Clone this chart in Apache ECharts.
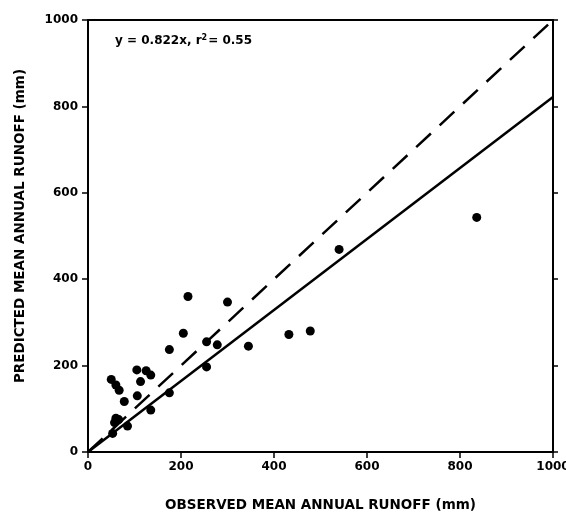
<!DOCTYPE html>
<html>
<head>
<meta charset="utf-8">
<script src="https://cdn.jsdelivr.net/npm/echarts@6/dist/echarts.min.js"></script>
<style>
  html, body { margin: 0; padding: 0; background: #fff; }
  #chart { width: 566px; height: 517px; }
</style>
</head>
<body>
<div id="chart"></div>
<script>
// observed vs predicted mean annual runoff (mm)
const observed  = [50, 60, 67, 78, 106, 113, 105, 125, 135, 175, 135, 60, 66, 85, 53, 57, 175, 205, 215, 255, 278, 255, 300, 345, 432, 478, 540, 836];
const predicted = [168, 155, 143, 117, 130, 163, 190, 188, 178, 137, 97, 78, 75, 60, 43, 68, 237, 275, 360, 255, 248, 197, 347, 245, 272, 280, 469, 543];

// regression y = 0.822x and the 1:1 line
const lineX = [0, 1000];
const fitY = [0, 822];
const oneToOneY = [0, 1000];

const font = 'DejaVu Sans, Arial, sans-serif';

const points = observed.map((v, i) => [v, predicted[i]]);

const chart = echarts.init(document.getElementById('chart'));

const options = {
  animation: false,
  backgroundColor: '#fff',
  grid: { left: 88, right: 13, top: 20, bottom: 65, outerBoundsMode: 'none', containLabel: false },
  graphic: [
    {
      type: 'text',
      left: 115,
      top: 34,
      style: {
        text: '{a|y = 0.822x, r}{s|2}{a|= 0.55}',
        rich: {
          a: { fontFamily: font, fontWeight: 'bold', fontSize: 12, fill: '#000' },
          s: { fontFamily: font, fontWeight: 'bold', fontSize: 8, fill: '#000', verticalAlign: 'top', padding: [0, 1, 6, 0] }
        }
      }
    }
  ],
  xAxis: [
    {
      type: 'value',
      min: 0, max: 1000, interval: 200,
      name: 'OBSERVED MEAN ANNUAL RUNOFF (mm)',
      nameLocation: 'middle',
      nameGap: 46,
      nameTextStyle: { fontFamily: font, fontWeight: 'bold', fontSize: 13.5, color: '#000' },
      axisLine: { onZero: false, lineStyle: { color: '#000', width: 2 } },
      axisTick: { show: true, length: 6, lineStyle: { color: '#000', width: 1.5 } },
      axisLabel: { fontFamily: font, fontWeight: 'bold', fontSize: 12, color: '#000', margin: 9, formatter: v => String(v) },
      splitLine: { show: false }
    },
    {
      type: 'value', position: 'top',
      min: 0, max: 1000, interval: 200,
      axisLine: { show: true, onZero: false, lineStyle: { color: '#000', width: 2 } },
      axisTick: { show: false },
      axisLabel: { show: false },
      splitLine: { show: false }
    }
  ],
  yAxis: [
    {
      type: 'value',
      min: 0, max: 1000, interval: 200,
      name: 'PREDICTED MEAN ANNUAL RUNOFF (mm)',
      nameLocation: 'middle',
      nameGap: 61,
      nameTextStyle: { fontFamily: font, fontWeight: 'bold', fontSize: 13.5, color: '#000', padding: [0, 0, 0, 20] },
      axisLine: { onZero: false, lineStyle: { color: '#000', width: 2 } },
      axisTick: { show: true, length: 6, lineStyle: { color: '#000', width: 1.5 } },
      axisLabel: { fontFamily: font, fontWeight: 'bold', fontSize: 12, color: '#000', margin: 10, formatter: v => String(v) },
      splitLine: { show: false }
    },
    {
      type: 'value', position: 'right',
      min: 0, max: 1000, interval: 200,
      axisLine: { show: true, onZero: false, lineStyle: { color: '#000', width: 2 } },
      axisTick: { show: true, length: 5, lineStyle: { color: '#000', width: 1.5 } },
      axisLabel: { show: false },
      splitLine: { show: false }
    }
  ],
  series: [
    {
      type: 'line',
      data: lineX.map((x, i) => [x, oneToOneY[i]]),
      symbol: 'none',
      lineStyle: { color: '#000', width: 2.5, type: [20, 12] },
      z: 2
    },
    {
      type: 'line',
      data: lineX.map((x, i) => [x, fitY[i]]),
      symbol: 'none',
      lineStyle: { color: '#000', width: 2.5 },
      z: 2
    },
    {
      type: 'scatter',
      data: points,
      symbol: 'circle',
      symbolSize: 9,
      itemStyle: { color: '#000', opacity: 1 },
      z: 3
    }
  ]
};

chart.setOption(options);
</script>
</body>
</html>
